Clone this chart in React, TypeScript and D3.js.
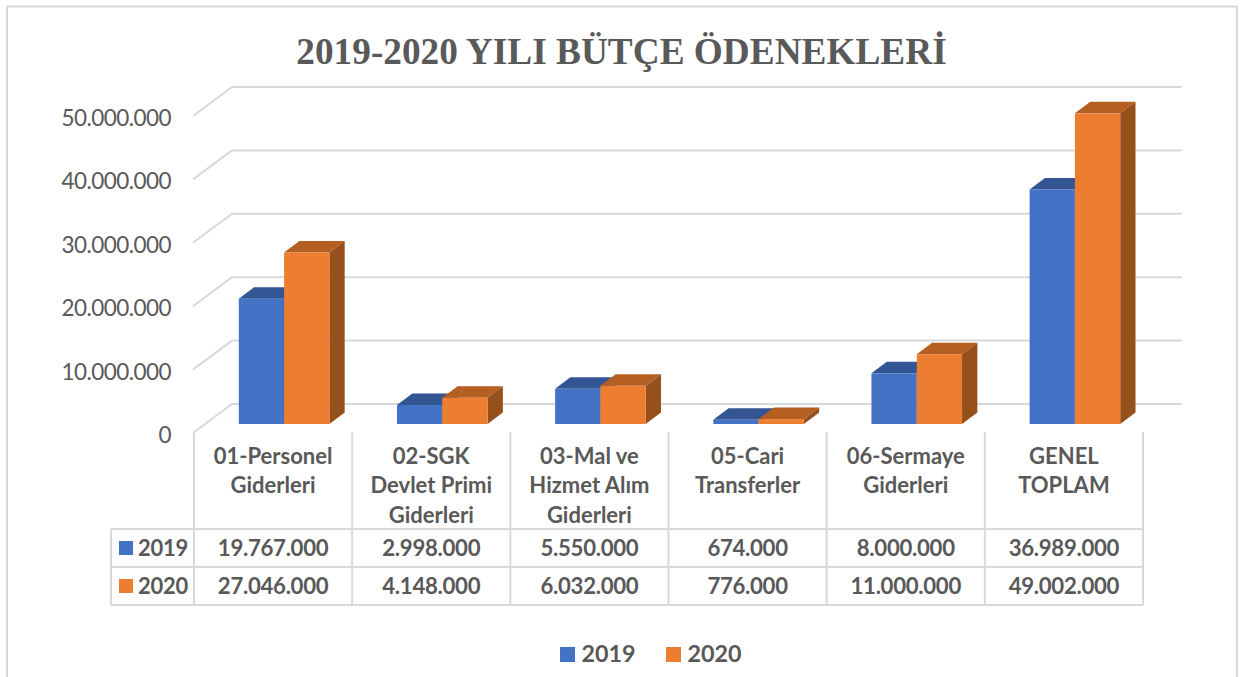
import * as d3 from "d3";

const years = ["2019", "2020"];
const categories = ["01", "02", "03", "05", "06", "GT"];
const categoryLines = [
  ["01-Personel", "Giderleri"],
  ["02-SGK", "Devlet Primi", "Giderleri"],
  ["03-Mal ve", "Hizmet Alım", "Giderleri"],
  ["05-Cari", "Transferler"],
  ["06-Sermaye", "Giderleri"],
  ["GENEL", "TOPLAM"],
];
const values2019 = [19767000, 2998000, 5550000, 674000, 8000000, 36989000];
const values2020 = [27046000, 4148000, 6032000, 776000, 11000000, 49002000];
const seriesValues = [values2019, values2020];

const front = ["#4472C4", "#ED7D31"];
const top = ["#335593", "#B55F22"];
const side = ["#2B4A80", "#96501C"];

const W = 1244;
const H = 677;
const GRAY = "#d9d9d9";
const TEXT = "#595959";
const FONT = "Lato, sans-serif";

const depthX = 15.3;
const depthY = 11.5;
const wallX = 232;
const floorX = 194;
const tableRight = 1143;

const tr = d3.formatLocale({ decimal: ",", thousands: ".", grouping: [3], currency: ["", ""] }).format(",d");

// back wall scale, ticks on the front edge sit 29px lower
const yWall = d3.scaleLinear().domain([0, 50000000]).range([404, 87]);
const barBase = 424;
const barH = (v: number) => yWall(0) - yWall(v);

const x0 = d3.scaleBand<string>().domain(categories).range([floorX, tableRight]);
// bars stand a bit to the right of the table cell because of the 3d floor
const barShift = 11;
const x1 = d3
  .scaleBand<string>()
  .domain(years)
  .range([barShift, x0.bandwidth() + barShift])
  .paddingOuter(0.746);

const rowY = [529, 567, 605];

export default function App() {
  const ticks = yWall.ticks(5);
  const bw = x1.bandwidth();

  return (
    <svg width={W} height={H} style={{ position: "absolute", left: 0, top: 0, display: "block" }} fontFamily={FONT}>
      <rect width={W} height={H} fill="#fff" />
      <path d={`M7,${H}V6.5H1237V${H}`} fill="none" stroke={GRAY} strokeWidth={2} />

      <text x={621.5} y={64} textAnchor="middle" fontFamily="'Liberation Serif', serif" fontWeight={700} fontSize={37.3} fill={TEXT}>
        2019-2020 YILI BÜTÇE ÖDENEKLERİ
      </text>

      {ticks.map((t) => (
        <g key={t}>
          <path
            d={`M${floorX - 1},${yWall(t) + 29}L${wallX},${yWall(t)}H1182`}
            fill="none"
            stroke={GRAY}
            strokeWidth={2}
          />
          <text x={171} y={yWall(t) + 39} textAnchor="end" fontSize={22.5} letterSpacing={-0.55} fill={TEXT}>
            {tr(t)}
          </text>
        </g>
      ))}

      {categories.map((c, i) => (
        <g key={c}>
          {years.map((y, s) => {
            const v = seriesValues[s][i];
            const x = x0(c)! + x1(y)!;
            const yTop = barBase - barH(v);
            return (
              <g key={y}>
                <path
                  d={`M${x},${yTop}l${depthX},${-depthY}h${bw}l${-depthX},${depthY}z`}
                  fill={top[s]}
                />
                <path
                  d={`M${x + bw},${yTop}l${depthX},${-depthY}V${barBase - depthY}l${-depthX},${depthY}z`}
                  fill={side[s]}
                />
                <rect x={x} y={yTop} width={bw} height={barH(v)} fill={front[s]} />
              </g>
            );
          })}
        </g>
      ))}

      {/* data table */}
      <g stroke={GRAY} strokeWidth={2} fill="none">
        {categories.map((c) => (
          <line key={c} x1={x0(c)!} x2={x0(c)!} y1={432} y2={rowY[2]} />
        ))}
        <line x1={tableRight} x2={tableRight} y1={432} y2={rowY[2]} />
        <line x1={111} x2={111} y1={rowY[0]} y2={rowY[2]} />
        {rowY.map((y) => (
          <line key={y} x1={111} x2={tableRight} y1={y} y2={y} />
        ))}
      </g>

      {categories.map((c, i) => (
        <text key={c} textAnchor="middle" fontSize={22} fontWeight={700} fill={TEXT}>
          {categoryLines[i].map((l, k) => (
            <tspan key={l} x={x0(c)! + x0.bandwidth() / 2} y={464 + k * 29.3}>
              {l}
            </tspan>
          ))}
        </text>
      ))}

      {years.map((y, s) => (
        <g key={y}>
          <rect x={119} y={rowY[s] + 12} width={14} height={14} fill={front[s]} />
          <text x={138} y={rowY[s] + 26.5} fontSize={22} letterSpacing={-0.3} fontWeight={700} fill={TEXT}>
            {y}
          </text>
          {categories.map((c, i) => (
            <text
              key={c}
              x={x0(c)! + x0.bandwidth() / 2}
              y={rowY[s] + 26.5}
              textAnchor="middle"
              fontSize={22.2}
              letterSpacing={-0.3}
              fontWeight={700}
              fill={TEXT}
            >
              {tr(seriesValues[s][i])}
            </text>
          ))}
        </g>
      ))}

      {/* legend */}
      {years.map((y, s) => (
        <g key={y} transform={`translate(${560 + s * 106},0)`}>
          <rect x={0} y={647} width={15} height={15} fill={front[s]} />
          <text x={21.5} y={662} fontSize={23.3} fontWeight={700} fill={TEXT}>
            {y}
          </text>
        </g>
      ))}
    </svg>
  );
}
